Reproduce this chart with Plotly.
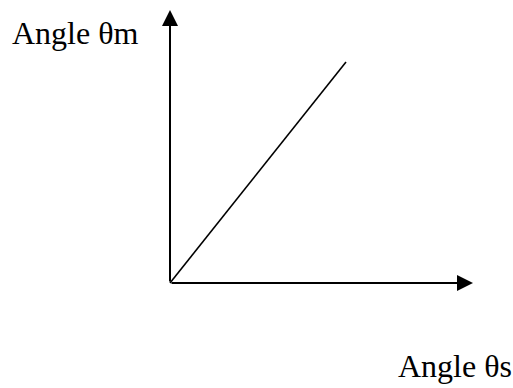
import plotly.graph_objects as go

# Data (schematic: angle θm rises linearly with angle θs)
theta_s = [0, 176]
theta_m = [0, 221]
x_axis_end = 303
y_axis_end = 273
x_label = "Angle θs"
y_label = "Angle θm"

fig = go.Figure()
fig.add_trace(go.Scatter(x=theta_s, y=theta_m, mode="lines",
                         line=dict(color="black", width=1.6), hoverinfo="skip"))

font = dict(family="Liberation Serif, Times New Roman, serif", size=32, color="black")

annotations = [
    dict(x=x_axis_end, y=0, ax=0, ay=0, xref="x", yref="y", axref="x", ayref="y",
         showarrow=True, arrowhead=2, arrowsize=1.6, arrowwidth=2, arrowcolor="black", text=""),
    dict(x=0, y=y_axis_end, ax=0, ay=0, xref="x", yref="y", axref="x", ayref="y",
         showarrow=True, arrowhead=2, arrowsize=1.6, arrowwidth=2, arrowcolor="black", text=""),
    dict(x=-160, y=250, xref="x", yref="y", text=y_label, showarrow=False,
         xanchor="left", yanchor="middle", font=font),
    dict(x=226, y=-83, xref="x", yref="y", text=x_label, showarrow=False,
         xanchor="left", yanchor="middle", font=font),
]

fig.update_layout(
    width=513, height=388,
    margin=dict(l=0, r=0, t=0, b=0),
    paper_bgcolor="white", plot_bgcolor="white",
    showlegend=False,
    xaxis=dict(range=[-170, 343], visible=False, fixedrange=True),
    yaxis=dict(range=[-105, 283], visible=False, fixedrange=True),
    annotations=annotations,
)

fig.write_html(
    "out.html",
    config={"displayModeBar": False, "staticPlot": True},
    post_script="document.body.style.margin='0';document.body.style.overflow='hidden';",
)
